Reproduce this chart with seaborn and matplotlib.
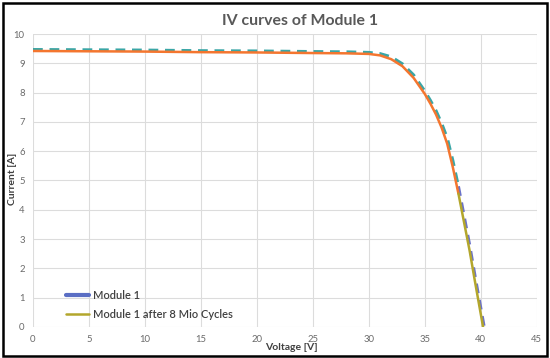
import numpy as np
import pandas as pd
import matplotlib
matplotlib.use('Agg')
import matplotlib.pyplot as plt
from matplotlib.patches import Rectangle
from matplotlib.lines import Line2D
import seaborn as sns

# IV curve readings (voltage [V], current [A])
voltage = [0, 5, 10, 15, 20, 25, 28, 30, 31, 32, 33, 34, 35, 35.5, 36, 36.5,
           37, 37.5, 38, 39, 39.5, 40.2]
current_aged = [9.42, 9.41, 9.40, 9.38, 9.37, 9.35, 9.34, 9.32, 9.27, 9.14, 8.90,
                8.50, 7.95, 7.62, 7.25, 6.80, 6.25, 5.45, 4.55, 2.60, 1.50, 0.0]
voltage_new = [0, 5, 10, 15, 20, 25, 28, 30, 31, 32, 33, 34, 35, 35.5, 36, 36.5,
               37, 37.5, 38, 39, 39.5, 40.3]
current_new = [9.47, 9.46, 9.45, 9.43, 9.42, 9.40, 9.39, 9.37, 9.33, 9.22, 8.98,
               8.60, 8.05, 7.73, 7.38, 6.95, 6.45, 5.68, 4.80, 2.80, 1.70, 0.0]
labels = ['Module 1', 'Module 1 after 8 Mio Cycles']

sns.set_style('white')
plt.rcParams['font.family'] = ['Lato', 'DejaVu Sans']

fig = plt.figure(figsize=(5.5, 3.58), dpi=100)
ax = fig.add_axes([0.06, 0.087, 0.916, 0.818])

split = 5.0  # colour changes along the curve (Excel gradient line)


def draw(v, i, top_col, low_col, **kw):
    df = pd.DataFrame({'V': v, 'I': i})
    k = int(np.argmax(df.I.values < split))
    sns.lineplot(data=df.iloc[:k + 1], x='V', y='I', ax=ax, color=top_col,
                 sort=False, estimator=None, **kw)
    sns.lineplot(data=df.iloc[k:], x='V', y='I', ax=ax, color=low_col,
                 sort=False, estimator=None, **kw)


draw(voltage_new, current_new, '#3aa6a6', '#6a72c8', lw=2.2,
     linestyle=(0, (3.2, 2.2)), zorder=3)
draw(voltage, current_aged, '#f4762f', '#b3a62c', lw=1.8, zorder=4)

ax.set_xlim(0, 45)
ax.set_ylim(0, 10)
ax.set_xticks(range(0, 46, 5))
ax.set_yticks(range(0, 11))
ax.grid(True, color='#dcdcdc', lw=0.8)
ax.set_axisbelow(True)
for s in ax.spines.values():
    s.set_visible(False)
ax.tick_params(length=0, labelsize=6.8, labelcolor='#6a6a6a', pad=6)
ax.set_xlabel('')
ax.set_ylabel('')

fig.text(0.53, 0.028, 'Voltage [V]', ha='center', va='center',
         fontsize=7.5, fontweight='bold', color='#404040')
fig.text(0.022, 0.5, 'Current [A]', ha='center', va='center', rotation=90,
         fontsize=7.5, fontweight='bold', color='#404040')
fig.text(0.545, 0.94, 'IV curves of Module 1', ha='center', va='center',
         fontsize=11.4, fontweight='bold', color='#595959')

handles = [Line2D([], [], color='#5a6ec4', lw=3),
           Line2D([], [], color='#b3a62c', lw=1.8)]
leg = ax.legend(handles, labels, loc='lower left', bbox_to_anchor=(0.045, -0.012),
                frameon=False, fontsize=8.0, handlelength=2.1, handletextpad=0.4,
                labelspacing=0.75)
for t in leg.get_texts():
    t.set_color('#404040')
    t.set_fontweight('semibold')

fig.add_artist(Rectangle((0.005, 0.006), 0.99, 0.986, transform=fig.transFigure,
                         fill=False, ec='black', lw=1.8))

fig.savefig('out.png', dpi=100)
